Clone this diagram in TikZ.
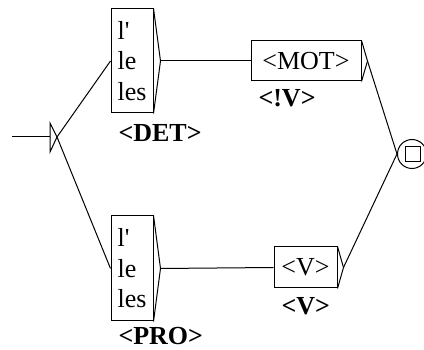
\documentclass[tikz,border=0pt]{standalone}
\usepackage{fontspec}
\setmainfont{Liberation Serif}
\begin{document}
\begin{tikzpicture}[x=1pt,y=-1pt,line width=1pt,
  fst/.style={draw,rectangle,inner sep=0pt,font=\fontsize{26}{30.5}\selectfont,align=left},
  lab/.style={anchor=base west,inner sep=0pt,font=\fontsize{26}{30}\selectfont\bfseries}]
\useasboundingbox (0,0) rectangle (424,350);
% initial state
\coordinate (i0) at (12,137);
\coordinate (i1) at (50,137);
\coordinate (itip) at (57,137);
\draw (i0) -- (i1);
\draw (50,123) -- (itip) -- (50,152) -- cycle;
% boxes
\node[fst,minimum width=42,minimum height=104] (det) at (132,61) {l\textquotesingle\\le\\les};
\node[fst,minimum width=42,minimum height=105] (pro) at (132,268.5) {l\textquotesingle\\le\\les};
\node[fst,minimum width=110,minimum height=40] (mot) at (306,61) {<MOT>};
\node[fst,minimum width=63,minimum height=41] (v) at (305.5,267.5) {<V>};
% box arrows
\coordinate (dettip) at ([xshift=7pt]det.east);
\coordinate (protip) at ([xshift=7pt]pro.east);
\coordinate (mottip) at ([xshift=6pt]mot.east);
\coordinate (vtip) at ([xshift=6pt]v.east);
\draw (det.north east) -- (dettip) -- (det.south east);
\draw (pro.north east) -- (protip) -- (pro.south east);
\draw (mot.north east) -- (mottip) -- (mot.south east);
\draw (v.north east) -- (vtip) -- (v.south east);
% labels
\node[lab] (ldet) at (118,142) {<DET>};
\node[lab] (lpro) at (118,345) {<PRO>};
\node[lab] (lmot) at (258,107) {<!V>};
\node[lab] (lv) at (281,315) {<V>};
% final state
\node[draw,circle,minimum size=29,inner sep=0pt] (fin) at (412,154) {};
\node[draw,rectangle,minimum size=15,inner sep=0pt] (finsq) at (413,154) {};
% transitions
\draw (itip) -- (det.west);
\draw (itip) -- (pro.west);
\draw (dettip) -- (mot.west);
\draw (protip) -- (v.west);
\draw (mottip) -- (fin.west);
\draw (vtip) -- (fin.west);
\end{tikzpicture}
\end{document}
